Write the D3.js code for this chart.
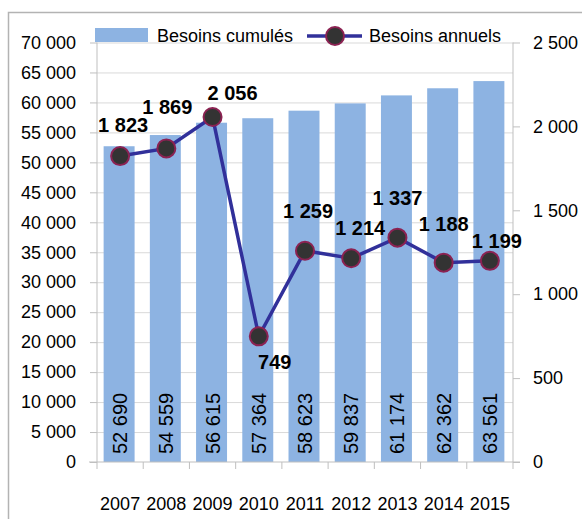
<!DOCTYPE html>
<html>
<head>
<meta charset="utf-8">
<script src="https://cdn.jsdelivr.net/npm/d3@7"></script>
<style>
  body { margin: 0; background: #fff; }
  svg text { font-family: "Liberation Sans", Arial, sans-serif; fill: #000; }
</style>
</head>
<body>
<svg id="chart" width="582" height="519"></svg>
<script>
// data
const years = ["2007", "2008", "2009", "2010", "2011", "2012", "2013", "2014", "2015"];
const cumules = [52690, 54559, 56615, 57364, 58623, 59837, 61174, 62362, 63561];
const annuels = [1823, 1869, 2056, 749, 1259, 1214, 1337, 1188, 1199];
const leftTicks = d3.range(0, 70001, 5000);
const rightTicks = [0, 500, 1000, 1500, 2000, 2500];
const seriesNames = ["Besoins cumulés", "Besoins annuels"];

// hand placed label offsets (like the excel chart)
const labelOffset = [[3, -24], [1, -34], [20, -17], [16, 33], [3, -33], [9, -23], [0, -33], [0, -32], [7, -13]];

const fr = d3.formatLocale({ decimal: ",", thousands: " ", grouping: [3], currency: ["", " €"] });
const fmt = fr.format(",d");

const svg = d3.select("#chart");

// outer frame
svg.append("rect")
  .attr("x", 8.5).attr("y", 12.5)
  .attr("width", 600).attr("height", 540)
  .style("fill", "none").style("stroke", "#b3b3b3").style("stroke-width", 1.5);

const x0 = 97, x1 = 513, yBottom = 462, yTop = 42.5;

const x = d3.scaleBand().domain(years).range([x0, x1]).padding(0);
const yL = d3.scaleLinear().domain([0, 70000]).range([yBottom, yTop]);
const yR = d3.scaleLinear().domain([0, 2500]).range([yBottom, yTop]);
const barW = x.bandwidth() * 0.67;

// gridlines
svg.append("g")
  .selectAll("line")
  .data(leftTicks.filter(d => d > 0))
  .enter().append("line")
  .attr("x1", x0).attr("x2", x1)
  .attr("y1", d => yL(d) + 0.5).attr("y2", d => yL(d) + 0.5)
  .style("stroke", "#d9d9d9").style("stroke-width", 1);

// bars
svg.append("g")
  .selectAll("rect")
  .data(cumules)
  .enter().append("rect")
  .attr("x", (d, i) => x(years[i]) + x.bandwidth() / 2 - barW / 2 - 1)
  .attr("y", d => yL(d))
  .attr("width", barW)
  .attr("height", d => yBottom - yL(d))
  .style("fill", "#8db3e2");

// values inside bars (rotated)
svg.append("g")
  .selectAll("text")
  .data(cumules)
  .enter().append("text")
  .attr("transform", (d, i) => "translate(" + (x(years[i]) + x.bandwidth() / 2) + ",454) rotate(-90)")
  .attr("dominant-baseline", "central")
  .style("font-size", "20px")
  .text(d => fmt(d));

// left axis
const leftAxis = d3.axisLeft(yL).tickValues(leftTicks).tickSize(7).tickPadding(14).tickFormat(fmt);
const gL = svg.append("g").attr("transform", "translate(" + x0 + ",0)").call(leftAxis);
gL.select(".domain").attr("d", "M0," + yTop + "V469");
gL.selectAll(".domain, .tick line").style("stroke", "#bfbfbf");
gL.selectAll("text").style("font-size", "18px").attr("font-family", null);

// right axis
const rightAxis = d3.axisRight(yR).tickValues(rightTicks).tickSize(7).tickPadding(13).tickFormat(fmt);
const gR = svg.append("g").attr("transform", "translate(" + x1 + ",0)").call(rightAxis);
gR.select(".domain").attr("d", "M0," + yTop + "V469");
gR.selectAll(".domain, .tick line").style("stroke", "#bfbfbf");
gR.selectAll("text").style("font-size", "18px").attr("font-family", null);

// bottom axis
const bottomAxis = d3.axisBottom(x).tickSize(0).tickPadding(35);
const gB = svg.append("g").attr("transform", "translate(0," + yBottom + ")").call(bottomAxis);
gB.select(".domain").attr("d", "M89,0H520").style("stroke", "#bfbfbf");
gB.selectAll("text").style("font-size", "18px").attr("font-family", null);
gB.selectAll(".sep")
  .data(years.slice(1))
  .enter().append("line")
  .attr("x1", d => x(d)).attr("x2", d => x(d))
  .attr("y1", 0).attr("y2", 7)
  .style("stroke", "#bfbfbf");

// line series
const line = d3.line()
  .x((d, i) => x(years[i]) + x.bandwidth() / 2)
  .y(d => yR(d));

svg.append("path")
  .datum(annuels)
  .attr("d", line)
  .style("fill", "none")
  .style("stroke", "#31309a")
  .style("stroke-width", 3.5);

svg.append("g")
  .selectAll("circle")
  .data(annuels)
  .enter().append("circle")
  .attr("cx", (d, i) => x(years[i]) + x.bandwidth() / 2)
  .attr("cy", d => yR(d))
  .attr("r", 9)
  .style("fill", "#333333")
  .style("stroke", "#8b2252")
  .style("stroke-width", 2);

svg.append("g")
  .selectAll("text")
  .data(annuels)
  .enter().append("text")
  .attr("x", (d, i) => x(years[i]) + x.bandwidth() / 2 + labelOffset[i][0])
  .attr("y", (d, i) => yR(d) + labelOffset[i][1])
  .attr("text-anchor", "middle")
  .style("font-size", "20px")
  .style("font-weight", "bold")
  .text(d => fmt(d));

// legend
const legend = svg.append("g").attr("class", "legend");
legend.append("rect")
  .attr("x", 95).attr("y", 28).attr("width", 53).attr("height", 14)
  .style("fill", "#8db3e2");
legend.append("text")
  .attr("x", 157).attr("y", 42)
  .style("font-size", "18px")
  .text(seriesNames[0]);
legend.append("line")
  .attr("x1", 307).attr("x2", 362).attr("y1", 36).attr("y2", 36)
  .style("stroke", "#31309a").style("stroke-width", 3.5);
legend.append("circle")
  .attr("cx", 335).attr("cy", 36).attr("r", 9)
  .style("fill", "#333333").style("stroke", "#8b2252").style("stroke-width", 2);
legend.append("text")
  .attr("x", 369).attr("y", 42)
  .style("font-size", "18px")
  .text(seriesNames[1]);
</script>
</body>
</html>
